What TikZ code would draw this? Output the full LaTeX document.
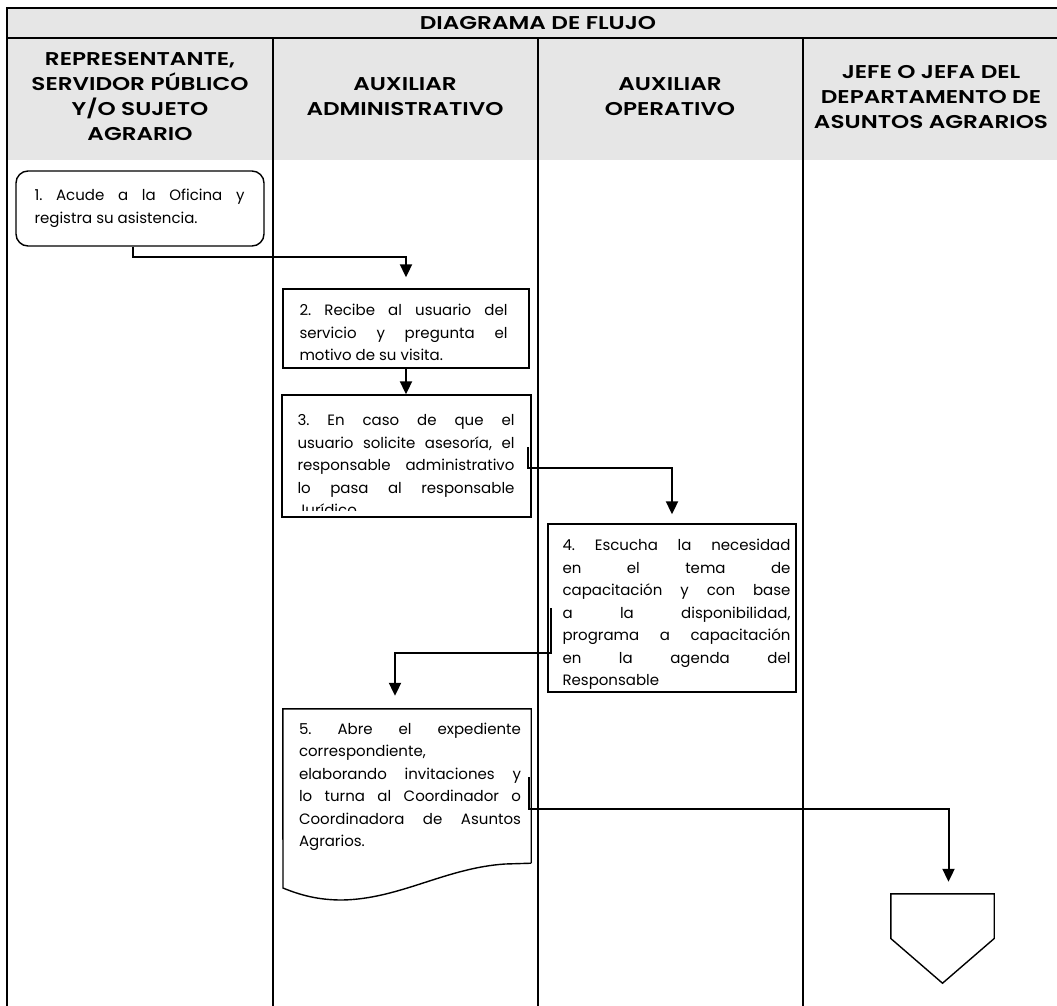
\documentclass[tikz,border=0pt]{standalone}
\usepackage{fontspec}
\setmainfont{Poppins}
\IfFontExistsTF{Poppins SemiBold}
  {\newfontfamily\headfont{Poppins SemiBold}[FakeStretch=1.25]}
  {\newfontfamily\headfont{Poppins}[FakeStretch=1.25,UprightFont=*-Medium,BoldFont=*-SemiBold]}
\usetikzlibrary{arrows.meta,calc}
\definecolor{hdrgray}{RGB}{230,230,230}
\frenchspacing

\begin{document}
\begin{tikzpicture}[
  x=1pt, y=-1pt,
  font=\fontsize{15}{22.5}\selectfont,
  head/.style={font=\headfont\fontsize{18.5}{25}\selectfont, align=center, inner sep=0pt},
  proc/.style={draw, line width=1.4pt, inner sep=0pt},
  ghost/.style={inner sep=0pt},
  txt/.style={anchor=north west, text width=#1, align=justify, inner sep=0pt},
  arr/.style={line width=2pt, -{Triangle[length=13pt,width=12pt]}}
]
\useasboundingbox (0,0) rectangle (1057,1005);

% table
\fill[hdrgray] (7,8) rectangle (1070,160);
\draw[line width=1.3pt] (7,1010) -- (7,8) -- (1070,8);
\draw[line width=1.3pt] (7,38) -- (1070,38);
\foreach \cx in {273,538,803}
  \draw[line width=1.3pt] (\cx,38) -- (\cx,1010);

\node[head] (title) at (538,23) {DIAGRAMA DE FLUJO};
\node[head] (h1) at (140,97) {REPRESENTANTE,\\SERVIDOR PÚBLICO\\Y/O SUJETO\\AGRARIO};
\node[head] (h2) at (405,97) {AUXILIAR\\ADMINISTRATIVO};
\node[head] (h3) at (670,97) {AUXILIAR\\OPERATIVO};
\node[head] (h4) at (931,97) {JEFE O JEFA DEL\\DEPARTAMENTO DE\\ASUNTOS AGRARIOS};

% process boxes
\node[proc, rounded corners=12pt, minimum width=248, minimum height=75] (b1) at (140,208.5) {};
\node[txt=210pt] (t1) at ($(b1.north west)+(19,19)$)
  {1. Acude a la Oficina y\linebreak registra su asistencia.};

\node[proc, minimum width=246, minimum height=79] (b2) at (406,328.5) {};
\node[txt=208pt] (t2) at ($(b2.north west)+(17,16)$)
  {2. Recibe al usuario del\linebreak servicio y pregunta el\linebreak motivo de su visita.};

\node[proc, minimum width=249, minimum height=122] (b3) at (406.5,456) {};
\begin{scope}
  \clip ($(b3.north west)+(2,-2)$) rectangle ($(b3.south east)+(-2,-7)$);
  \node[txt=217pt] (t3) at ($(b3.north west)+(16,20)$)
    {3. En caso de que el\linebreak usuario solicite asesoría, el\linebreak responsable administrativo\linebreak lo pasa al responsable\linebreak Jurídico};
\end{scope}

\node[proc, minimum width=248, minimum height=168] (b4) at (672,608) {};
\begin{scope}
  \clip ($(b4.north west)+(2,-2)$) rectangle ($(b4.south east)+(-2,-4)$);
  \node[txt=228pt] (t4) at ($(b4.north west)+(15,16)$)
    {4. Escucha la necesidad\linebreak en el tema de\linebreak capacitación y con base\linebreak a la disponibilidad,\linebreak programa a capacitación\linebreak en la agenda del\linebreak Responsable};
\end{scope}

% document shape
\node[ghost, minimum width=248, minimum height=154] (b5) at (407,786) {};
\draw[line width=1.4pt] (b5.south east) -- (b5.north east) -- (b5.north west) -- (283,888)
  .. controls (300,895) and (318,900) .. (342,900)
  .. controls (400,899) and (445,868) .. (505,864) -- (b5.south east);
\node[txt=222pt] (t5) at ($(b5.north west)+(16,14)$)
  {5. Abre el expediente\linebreak correspondiente,\newline elaborando invitaciones y\linebreak lo turna al Coordinador o\linebreak Coordinadora de Asuntos\linebreak Agrarios.};

% off-page connector
\node[ghost, minimum width=103, minimum height=89] (fin) at (942.5,938.5) {};
\draw[line width=1.4pt] (fin.north west) -- (fin.north east) -- (fin.east)
  -- (fin.south) -- (fin.west) -- cycle;

% connectors
\draw[arr] ($(b1.south)+(-7,0)$) -- ++(0,10) -| ([yshift=11pt]b2.north);
\draw[arr] (b2.south) -- (b2.south |- b3.north);
\draw[arr] ($(b3.east)+(-4,-9)$) -- ++(0,21) -| ([yshift=9pt]b4.north);
\draw[arr] ($(b4.west)+(4,0)$) -- ++(0,45) -| ([xshift=-12pt,yshift=13pt]b5.north);
\draw[arr] ($(b5.east)+(-2,-9)$) -- ++(0,32) -| ([xshift=6pt,yshift=12pt]fin.north);
\end{tikzpicture}
\end{document}
